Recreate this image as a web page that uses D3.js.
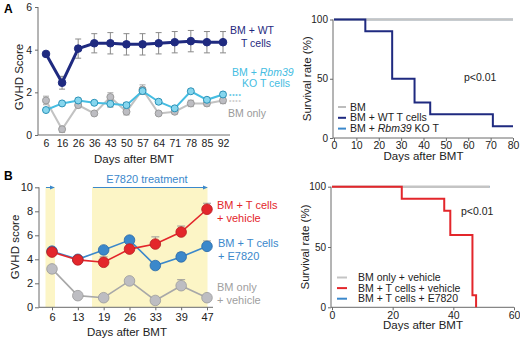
<!DOCTYPE html>
<html><head><meta charset="utf-8">
<script src="https://cdn.jsdelivr.net/npm/d3@7"></script>
<style>
body{margin:0;background:#fff}
svg{font-family:"Liberation Sans",Arial,sans-serif;display:block}
</style></head>
<body><svg id="c" width="520" height="341"></svg>
<script>
// ---------- Data ----------
const daysA = ["6","16","26","36","43","50","57","64","71","78","85","92"];
const wtScore = [3.8,2.45,4.05,4.3,4.3,4.25,4.25,4.3,4.35,4.4,4.35,4.35];
const wtErr   = [0.05,0.3,0.45,0.45,0.5,0.5,0.5,0.5,0.5,0.5,0.5,0.5];
const koScore = [1.17,1.48,1.62,1.51,1.46,1.4,2.06,1.56,1.25,2.05,1.65,1.9];
const koErr   = [0.1,0.08,0.1,0.08,0.15,0.12,0.15,0.1,0.08,0.1,0.1,0.1];
const bmScore = [1.62,0.27,1.4,1.01,1.78,1.09,2.13,1.01,1.09,1.48,1.48,1.62];
const bmErr   = [0.2,0.15,0.12,0.08,0.2,0.15,0.22,0.08,0.1,0.15,0.12,0.15];
const sigMarks = ["****","****"];

const survA_bm_t = [0,80],  survA_bm = [100,100];
const survA_ko_t = [0,80],  survA_ko = [100,100];
const survA_wt_t = [0,14,26,36,43,71,80], survA_wt = [100,90,50,30,20,10,10];
const survAxTicks = [0,10,20,30,40,50,60,70,80];
const survYTicks = [0,50,100];

const daysB = ["6","13","19","26","33","39","47"];
const vehScore = [4.6,3.95,3.75,4.85,5.27,6.27,8.17];
const vehErr   = [0.1,0.1,0.45,0.1,0.6,0.5,0.5];
const e78Score = [4.68,4.0,4.78,5.6,3.48,4.2,5.08];
const e78Err   = [0.1,0.1,0.1,0.1,0.1,0.35,0.45];
const bmvScore = [3.2,0.97,0.8,2.2,0.57,1.8,0.8];
const bmvErr   = [0.1,0.1,0.1,0.1,0.1,0.5,0.1];
const yTicksA = [0,2,4,6];
const yTicksB = [0,2,4,6,8,10];

const survB_bm_t = [0,52], survB_bm = [100,100];
const survB_e7_t = [0,52], survB_e7 = [100,100];
const survB_veh_t = [0,23,37,39,46.3,47.5], survB_veh = [100,90,80,60,10,0];
const survBxTicks = [0,20,40,60];

// ---------- Colors ----------
const NAVY="#1f2a80", CYAN="#45bde2", CYANF="#86d6ee", CYANS="#2b92b8",
      GRAY="#c2c2c2", GRAYF="#bdbdc2", GRAYS="#9a9a9a",
      RED="#e3262b", REDS="#b81d22", BLUE="#3b88cb", BLUES="#2a68a6",
      AX="#6a6a6a", TXT="#222", YEL="#fcf5c6";

const svg = d3.select("#c");

function txt(g,x,y,s,o={}){
  const t=g.append("text").attr("x",x).attr("y",y).text(s)
    .attr("font-size",o.size||10).attr("fill",o.fill||TXT)
    .attr("text-anchor",o.anchor||"start");
  if(o.weight) t.attr("font-weight",o.weight);
  if(o.rot) t.attr("transform",`rotate(-90,${x},${y})`);
  return t;
}
function styleAxis(g,size){
  g.select(".domain").remove();
  g.selectAll(".tick line").attr("stroke",AX);
  g.selectAll(".tick text").attr("fill",TXT).attr("font-size",size)
    .attr("font-family","Liberation Sans,Arial,sans-serif");
}

// =========== Panel A left ===========
{
  const x = d3.scalePoint().domain(daysA).range([46,223]);
  const y = d3.scaleLinear().domain([0,6]).range([135,7]);
  const g = svg.append("g");
  txt(g,4,13,"A",{size:12,weight:"bold",fill:"#000"});
  g.append("line").attr("x1",38).attr("x2",38).attr("y1",7).attr("y2",135).attr("stroke",AX);
  g.append("line").attr("x1",38).attr("x2",230).attr("y1",135).attr("stroke",AX).attr("y2",135);
  const ya=g.append("g").attr("transform","translate(38,0)")
    .call(d3.axisLeft(y).tickValues(yTicksA).tickSize(3).tickPadding(3).tickFormat(d3.format("d")));
  styleAxis(ya,10.5);
  const xa=g.append("g").attr("transform","translate(0,135)")
    .call(d3.axisBottom(x).tickSize(0).tickPadding(5));
  styleAxis(xa,10.5);
  txt(g,134,163,"Days after BMT",{size:11.5,anchor:"middle"});
  txt(g,23,77,"GVHD Score",{size:11.5,anchor:"middle",rot:true});

  function series(vals,errs,line,lw,fill,stroke,r,errc){
    const eg=g.append("g");
    daysA.forEach((d,i)=>{
      const cx=x(d), y1=y(vals[i]-errs[i]), y2=y(vals[i]+errs[i]);
      eg.append("line").attr("x1",cx).attr("x2",cx).attr("y1",y1).attr("y2",y2).attr("stroke",errc).attr("stroke-width",1);
      [y1,y2].forEach(yy=>eg.append("line").attr("x1",cx-3).attr("x2",cx+3).attr("y1",yy).attr("y2",yy).attr("stroke",errc).attr("stroke-width",1));
    });
    g.append("path").datum(vals).attr("fill","none").attr("stroke",line).attr("stroke-width",lw)
      .attr("d",d3.line().x((d,i)=>x(daysA[i])).y(d=>y(d)));
    g.selectAll(null).data(vals).enter().append("circle")
      .attr("cx",(d,i)=>x(daysA[i])).attr("cy",d=>y(d)).attr("r",r)
      .attr("fill",fill).attr("stroke",stroke).attr("stroke-width",1);
  }
  series(bmScore,bmErr,GRAY,2,GRAYF,GRAYS,3.5,"#a8a8a8");
  series(koScore,koErr,CYAN,2,CYANF,CYANS,3.5,"#8a8a8a");
  series(wtScore,wtErr,NAVY,3,NAVY,NAVY,3.8,"#8a8a8a");

  txt(g,229,97.5,sigMarks[0],{size:6,fill:CYAN,weight:"bold"}).attr("letter-spacing",0.8);
  txt(g,229,104,sigMarks[1],{size:6,fill:"#c4c4c4",weight:"bold"}).attr("letter-spacing",0.8);

  txt(g,252,34,"BM + WT",{size:10.5,fill:NAVY,anchor:"middle"});
  txt(g,256,47,"T cells",{size:10.5,fill:NAVY,anchor:"middle"});
  const t1=g.append("text").attr("x",232).attr("y",76).attr("font-size",10.5).attr("fill",CYAN);
  t1.append("tspan").text("BM + ");
  t1.append("tspan").text("Rbm39").attr("font-style","italic");
  txt(g,242,87,"KO T cells",{size:10.5,fill:CYAN});
  txt(g,228,117,"BM only",{size:10.5,fill:"#9a9a9a"});
}

// =========== Survival panels ===========
function survival(opt){
  const g=svg.append("g");
  const x=d3.scaleLinear().domain([0,opt.xmax]).range([opt.x0,opt.x1]);
  const y=d3.scaleLinear().domain([0,100]).range([opt.y0,opt.y1]);
  g.append("line").attr("x1",opt.ax).attr("x2",opt.ax).attr("y1",opt.y1).attr("y2",opt.y0).attr("stroke",AX);
  g.append("line").attr("x1",opt.ax).attr("x2",opt.x1).attr("y1",opt.y0).attr("y2",opt.y0).attr("stroke",AX);
  const ya=g.append("g").attr("transform",`translate(${opt.ax},0)`)
    .call(d3.axisLeft(y).tickValues(survYTicks).tickSize(3).tickPadding(2));
  styleAxis(ya,10);
  const xa=g.append("g").attr("transform",`translate(0,${opt.y0})`)
    .call(d3.axisBottom(x).tickValues(opt.xt).tickSize(3).tickPadding(1));
  styleAxis(xa,10.5);
  txt(g,(opt.x0+opt.x1)/2,opt.y0+22,"Days after BMT",{size:11.5,anchor:"middle"});
  txt(g,opt.ax-22,(opt.y0+opt.y1)/2,"Survival rate (%)",{size:11.5,anchor:"middle",rot:true});
  const line=d3.line().curve(d3.curveStepAfter).x(d=>x(d[0])).y(d=>y(d[1]));
  opt.series.forEach(s=>{
    g.append("path").datum(s.t.map((t,i)=>[t,s.v[i]])).attr("fill","none")
      .attr("stroke",s.c).attr("stroke-width",s.w).attr("d",line);
  });
  txt(g,opt.px,opt.py,"p<0.01",{size:10.5});
  opt.legend.forEach((l,i)=>{
    const yy=opt.ly+i*opt.lstep;
    g.append("line").attr("x1",opt.lx).attr("x2",opt.lx+opt.llen).attr("y1",yy).attr("y2",yy).attr("stroke",l.c).attr("stroke-width",2);
    const t=g.append("text").attr("x",opt.lx+opt.llen+opt.lgap).attr("y",yy+3.5).attr("font-size",10.5).attr("fill",TXT);
    l.parts.forEach(p=>{const ts=t.append("tspan").text(p[0]); if(p[1]) ts.attr("font-style","italic");});
  });
}
survival({xmax:80,x0:334,x1:513,y0:138,y1:19.5,ax:333,xt:survAxTicks,
  series:[{t:survA_ko_t,v:survA_ko,c:BLUE,w:1.5},{t:survA_bm_t,v:survA_bm,c:"#c4c4c4",w:2.5},{t:survA_wt_t,v:survA_wt,c:NAVY,w:2}],
  px:464,py:81,lx:338,ly:107,lstep:10.8,llen:8,lgap:4,
  legend:[{c:"#bdbdbd",parts:[["BM"]]},{c:NAVY,parts:[["BM + WT T cells"]]},{c:BLUE,parts:[["BM + "],["Rbm39",1],[" KO T"]]}]});
survival({xmax:60,x0:332,x1:514,y0:307.3,y1:186.7,ax:331,xt:survBxTicks,
  series:[{t:survB_e7_t,v:survB_e7,c:BLUE,w:1.5},{t:survB_bm_t,v:survB_bm,c:"#c4c4c4",w:2.5},{t:survB_veh_t,v:survB_veh,c:RED,w:2}],
  px:461,py:215,lx:337,ly:277.5,lstep:10.6,llen:10,lgap:11,
  legend:[{c:"#c4c4c4",parts:[["BM only + vehicle"]]},{c:RED,parts:[["BM + T cells + vehicle"]]},{c:BLUE,parts:[["BM + T cells + E7820"]]}]});

// =========== Panel B left ===========
{
  const x = d3.scalePoint().domain(daysB).range([52,207]);
  const y = d3.scaleLinear().domain([0,10]).range([307.3,187.3]);
  const g = svg.append("g");
  // treatment shading
  g.append("rect").attr("x",45.5).attr("width",9.5).attr("y",187).attr("height",120).attr("fill",YEL);
  g.append("rect").attr("x",92).attr("width",115.5).attr("y",187).attr("height",120).attr("fill",YEL);
  txt(g,4,180,"B",{size:12,weight:"bold",fill:"#000"});
  g.append("line").attr("x1",39).attr("x2",39).attr("y1",187.3).attr("y2",307.3).attr("stroke",AX);
  g.append("line").attr("x1",39).attr("x2",213).attr("y1",307.3).attr("y2",307.3).attr("stroke",AX);
  const ya=g.append("g").attr("transform","translate(39,0)")
    .call(d3.axisLeft(y).tickValues(yTicksB).tickSize(4).tickPadding(2));
  styleAxis(ya,11);
  const xa=g.append("g").attr("transform","translate(0,307.3)")
    .call(d3.axisBottom(x).tickSize(3).tickPadding(3));
  styleAxis(xa,11);
  txt(g,127,336,"Days after BMT",{size:11.5,anchor:"middle"});
  txt(g,19,247,"GVHD score",{size:11.5,anchor:"middle",rot:true});
  // arrows
  const defs=svg.append("defs");
  defs.append("marker").attr("id","ah").attr("viewBox","0 0 6 6").attr("refX",5).attr("refY",3)
    .attr("markerWidth",5).attr("markerHeight",5).attr("orient","auto")
    .append("path").attr("d","M0,0.5 L6,3 L0,5.5 Z").attr("fill",BLUE);
  g.append("line").attr("x1",46).attr("x2",54).attr("y1",187.5).attr("y2",187.5).attr("stroke",BLUE).attr("stroke-width",1).attr("marker-end","url(#ah)");
  g.append("line").attr("x1",93).attr("x2",207).attr("y1",187.5).attr("y2",187.5).attr("stroke",BLUE).attr("stroke-width",1).attr("marker-end","url(#ah)");
  txt(g,147,183,"E7820 treatment",{size:11,fill:BLUE,anchor:"middle"});

  function series(vals,errs,line,fill,stroke){
    daysB.forEach((d,i)=>{
      const cx=x(d), y1=y(vals[i]), y2=y(vals[i]+errs[i]);
      g.append("line").attr("x1",cx).attr("x2",cx).attr("y1",y1).attr("y2",y2).attr("stroke","#9a9a9a");
      g.append("line").attr("x1",cx-4).attr("x2",cx+4).attr("y1",y2).attr("y2",y2).attr("stroke","#9a9a9a");
    });
    g.append("path").datum(vals).attr("fill","none").attr("stroke",line).attr("stroke-width",1.6)
      .attr("d",d3.line().x((d,i)=>x(daysB[i])).y(d=>y(d)));
    g.selectAll(null).data(vals).enter().append("circle")
      .attr("cx",(d,i)=>x(daysB[i])).attr("cy",d=>y(d)).attr("r",5.3)
      .attr("fill",fill).attr("stroke",stroke).attr("stroke-width",0.8);
  }
  series(bmvScore,bmvErr,"#a8a8a8",GRAYF,GRAYS);
  series(e78Score,e78Err,BLUE,BLUE,BLUES);
  series(vehScore,vehErr,RED,RED,REDS);

  txt(g,217,209,"BM + T cells",{size:11,fill:RED});
  txt(g,217,222,"+ vehicle",{size:11,fill:RED});
  txt(g,218,247,"BM + T cells",{size:11,fill:BLUE});
  txt(g,218,260,"+ E7820",{size:11,fill:BLUE});
  txt(g,217,291,"BM only",{size:11,fill:"#a0a0a0"});
  txt(g,217,304,"+ vehicle",{size:11,fill:"#a0a0a0"});
}
</script></body></html>
